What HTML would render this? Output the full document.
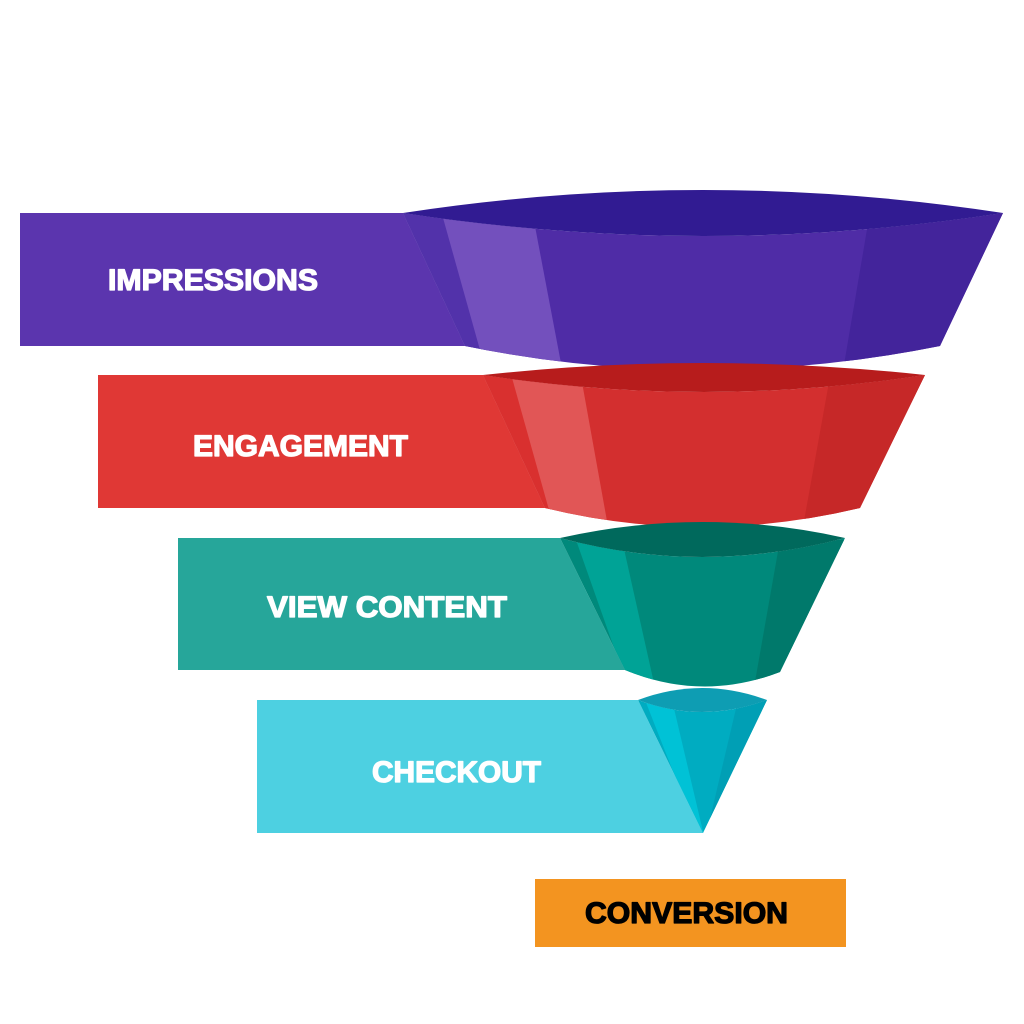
<!DOCTYPE html>
<html><head><meta charset="utf-8"><style>html,body{margin:0;padding:0;background:#fff}svg{display:block}</style></head>
<body>
<svg width="1024" height="1024" viewBox="0 0 1024 1024" xmlns="http://www.w3.org/2000/svg">
<defs>
<clipPath id="cp"><path d="M403,213 Q703,259 1003,213 L940,346 Q700,394 465,346 Z"/></clipPath>
<clipPath id="cr"><path d="M483,375 Q704,409 925,375 L860,508 Q700,546 545,508 Z"/></clipPath>
<clipPath id="ct"><path d="M560,538 Q702,576 845,538 L780,672 Q702,702 625,670 Z"/></clipPath>
<clipPath id="cc"><path d="M638,700 Q702,724 767,700 L703,833 Z"/></clipPath>
</defs>
<rect width="1024" height="1024" fill="#fff"/>
<polygon points="20,213 403,213 465,346 20,346" fill="#5b35ae"/>
<g clip-path="url(#cp)">
<rect x="380" y="180" width="640" height="230" fill="#4f2ca6"/>
<polygon points="380,180 440,180 500,400 380,400" fill="#5232aa"/>
<polygon points="438,200 530,200 568,400 494,400" fill="#7350bd"/>
<polygon points="872,200 1020,200 1020,400 838,400" fill="#43249b"/>
</g>
<path d="M403,213 Q703,167 1003,213 Q703,259 403,213 Z" fill="#311b92"/>
<polygon points="98,375 483,375 545,508 98,508" fill="#e03835"/>
<g clip-path="url(#cr)">
<rect x="470" y="350" width="470" height="200" fill="#d32f2f"/>
<polygon points="470,350 510,350 565,560 470,560" fill="#d9302f"/>
<polygon points="507,360 578,360 614,560 563,560" fill="#e15656"/>
<polygon points="833,360 940,360 940,560 797,560" fill="#c62828"/>
</g>
<path d="M483,375 Q704,351 925,375 Q704,409 483,375 Z" fill="#b71c1c"/>
<polygon points="178,538 560,538 625,670 178,670" fill="#26a69a"/>
<g clip-path="url(#ct)">
<rect x="550" y="520" width="310" height="190" fill="#00897b"/>
<polygon points="576,540 622,540 660,710 636,710" fill="#00a396"/>
<polygon points="780,540 860,540 860,710 750,710" fill="#00796b"/>
</g>
<path d="M560,538 Q702,506 845,538 Q702,576 560,538 Z" fill="#00695c"/>
<polygon points="257,700 638,700 703,833 257,833" fill="#4dd0e1"/>
<g clip-path="url(#cc)">
<rect x="630" y="690" width="150" height="150" fill="#00acc1"/>
<polygon points="645,700 672,700 705,840 700,840" fill="#00c2d6"/>
<polygon points="738,700 780,700 780,840 705,840" fill="#009fb5"/>
</g>
<path d="M638,700 Q702,676 767,700 Q702,724 638,700 Z" fill="#0e9db3"/>
<rect x="535" y="879" width="311" height="68" fill="#f39420"/>
<g font-family="Liberation Sans, sans-serif" font-weight="bold" font-size="30" stroke-width="1.3" stroke-linejoin="round">
<text x="108" y="290" fill="#fff" stroke="#fff" textLength="210" lengthAdjust="spacingAndGlyphs">IMPRESSIONS</text>
<text x="193" y="456" fill="#fff" stroke="#fff" textLength="215" lengthAdjust="spacingAndGlyphs">ENGAGEMENT</text>
<text x="267" y="617" fill="#fff" stroke="#fff" textLength="240" lengthAdjust="spacingAndGlyphs">VIEW CONTENT</text>
<text x="372" y="782" fill="#fff" stroke="#fff" textLength="169" lengthAdjust="spacingAndGlyphs">CHECKOUT</text>
<text x="585" y="923" fill="#000" stroke="#000" textLength="203" lengthAdjust="spacingAndGlyphs">CONVERSION</text>
</g>
</svg>
</body></html>
